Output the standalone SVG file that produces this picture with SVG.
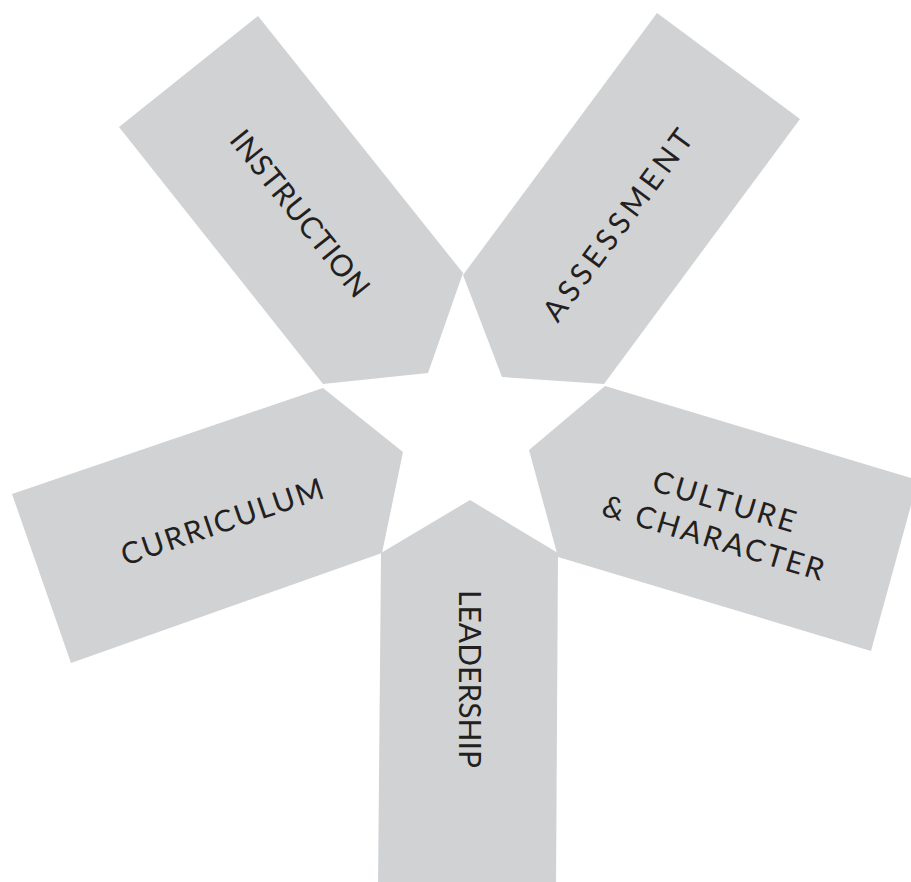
<svg xmlns="http://www.w3.org/2000/svg" width="911" height="882" viewBox="0 0 911 882">
  <style>
    .shape { fill: #d1d2d4; stroke: none; }
    .label { font-family: Lato, "Noto Sans", "Liberation Sans", sans-serif; font-size: 30px; font-weight: 400; fill: #231f20; text-anchor: middle; letter-spacing: 2px; }
  </style>
  <rect width="911" height="882" fill="#ffffff"/>
  <g id="instruction">
    <polygon class="shape" points="119,127 258,16 463,273 428,373 323,384"/>
    <text class="label" transform="translate(301,214) rotate(51.4)" x="0" y="11" textLength="206" lengthAdjust="spacing">INSTRUCTION</text>
  </g>
  <g id="assessment">
    <polygon class="shape" points="463,275 657,13 800,119 604,384 502,377"/>
    <text class="label" transform="translate(618,224) rotate(-53.5)" x="0" y="11" textLength="232" lengthAdjust="spacing">ASSESSMENT</text>
  </g>
  <g id="curriculum">
    <polygon class="shape" points="12,494 323,388 403,452 382,553 71,663"/>
    <text class="label" transform="translate(223,521) rotate(-18.8)" x="0" y="11" textLength="214" lengthAdjust="spacing">CURRICULUM</text>
  </g>
  <g id="culture-character">
    <polygon class="shape" points="605,386 918,480 871,651 558,557 529,450"/>
    <g transform="translate(720,519.5) rotate(16.7)">
      <text class="label" x="0" y="-8" textLength="150" lengthAdjust="spacing">CULTURE</text>
      <text class="label" x="0" y="30" textLength="232" lengthAdjust="spacing">&amp; CHARACTER</text>
    </g>
  </g>
  <g id="leadership">
    <polygon class="shape" points="381,553 470,500 558,553 556,890 378,890"/>
    <text class="label" transform="translate(470,680) rotate(90)" x="0" y="11" textLength="180" lengthAdjust="spacing">LEADERSHIP</text>
  </g>
</svg>
